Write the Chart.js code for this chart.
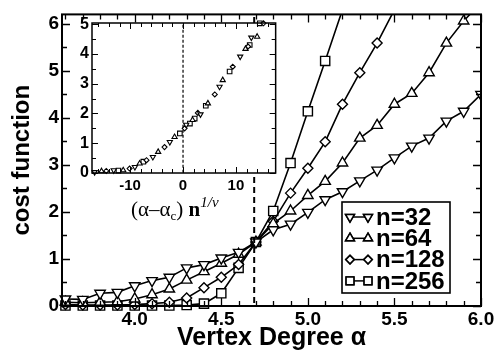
<!DOCTYPE html>
<html>
<head>
<meta charset="utf-8">
<script src="https://cdn.jsdelivr.net/npm/chart.js@4.4.1/dist/chart.umd.min.js"></script>
<style>
  html, body { margin: 0; padding: 0; background: #fff; }
  #wrap { position: relative; width: 503px; height: 353px; overflow: hidden; }
  #main { position: absolute; left: 0; top: 0; }
  #inset { position: absolute; left: 64px; top: 8px; }
  #insetLabel {
    position: absolute; left: 131px; top: 194px;
    font: 21px "Liberation Serif", serif; color: #000; white-space: nowrap;
  }
  #insetLabel sub { font-size: 13px; vertical-align: -4px; }
  #insetLabel sup { font-size: 15px; font-style: italic; vertical-align: 9px; }
</style>
</head>
<body>
<div id="wrap">
  <canvas id="main" width="503" height="353"></canvas>
  <canvas id="inset" width="216" height="224"></canvas>
  <div id="insetLabel">(α–α<sub>c</sub>) <b>n</b><sup>1/ν</sup></div>
</div>
<script>
/* ---- Main plot data: cost function vs vertex degree ---- */
const ALPHA = [3.6, 3.7, 3.8, 3.9, 4.0, 4.1, 4.2, 4.3, 4.4, 4.5, 4.6, 4.7, 4.8,
               4.9, 5.0, 5.1, 5.2, 5.3, 5.4, 5.5, 5.6, 5.7, 5.8, 5.9, 6.0];

const COST_32 = [0.15, 0.14, 0.27, 0.29, 0.43, 0.54, 0.61, 0.81, 0.88, 1.02, 1.14, 1.36, 1.62,
                 1.74, 1.99, 2.26, 2.43, 2.66, 2.89, 3.15, 3.40, 3.57, 3.93, 4.14, 4.50];
const COST_64 = [0.08, 0.07, 0.08, 0.09, 0.15, 0.24, 0.36, 0.55, 0.73, 0.91, 1.10, 1.36, 1.75,
                 2.02, 2.35, 2.65, 3.04, 3.57, 3.84, 4.29, 4.52, 4.96, 5.59, 6.06, 6.45];
const COST_128 = [0.03, 0.02, 0.02, 0.02, 0.03, 0.05, 0.08, 0.17, 0.39, 0.61, 0.88, 1.36, 1.80,
                  2.40, 2.93, 3.49, 4.29, 4.96, 5.59, 6.30];
const COST_256 = [0.01, 0.01, 0.01, 0.01, 0.01, 0.01, 0.01, 0.02, 0.05, 0.27, 0.81, 1.36, 2.02,
                  3.04, 4.14, 5.21, 6.30];

const ALPHA_C = 4.69;
const SERIES_LABELS = ['n=32', 'n=64', 'n=128', 'n=256'];

const X_TICKS = [4.0, 4.5, 5.0, 5.5, 6.0];
const Y_TICKS = [0, 1, 2, 3, 4, 5, 6];

/* ---- Inset data: scaling collapse ---- */
const INSET_X_32 = [-16.7, -13.1, -9.1, -5.7, -2.5, 0.6, 3.3, 6.9, 10.8, 12.9];
const INSET_Y_32 = [0.03, 0.09, 0.20, 0.54, 1.04, 1.62, 1.97, 2.90, 3.91, 4.55];
const INSET_X_64 = [-15.4, -11.3, -8.2, -4.7, -1.6, 1.8, 4.7, 7.5, 11.8, 14.0];
const INSET_Y_64 = [0.06, 0.09, 0.32, 0.71, 1.21, 1.78, 2.34, 3.12, 4.17, 4.58];
const INSET_X_128 = [-14.5, -10.1, -6.9, -3.5, 0.3, 2.8, 6.0, 9.4, 12.3, 15.2];
const INSET_Y_128 = [0.07, 0.15, 0.43, 0.87, 1.50, 2.02, 2.64, 3.57, 4.25, 5.03];
const INSET_X_256 = [-12.2, -7.5, -0.6, 1.3, 2.2, 4.3, 8.8, 12.6, 14.5];
const INSET_Y_256 = [0.08, 0.38, 1.33, 1.66, 1.83, 2.26, 3.41, 4.30, 5.03];

const INSET_X_TICKS = [-10, 0, 10];
const INSET_Y_TICKS = [0, 1, 2, 3, 4, 5];

const FONT = '"Liberation Sans", Arial, sans-serif';

/* marker styles, one per system size */
const MARKERS = [
  { pointStyle: 'triangle', rotation: 180, radius: 6 },
  { pointStyle: 'triangle', rotation: 0, radius: 6 },
  { pointStyle: 'rectRot', rotation: 0, radius: 5 },
  { pointStyle: 'rect', rotation: 0, radius: 6.5 },
];

function toPoints(xs, ys) {
  return ys.map((y, i) => ({ x: xs[i], y }));
}

function seriesDataset(label, points, marker, scale, border) {
  return {
    label,
    data: points,
    showLine: true,
    borderColor: '#000',
    borderWidth: 1.6,
    backgroundColor: '#fff',
    pointStyle: marker.pointStyle,
    pointRotation: marker.rotation,
    pointRadius: marker.radius * scale,
    pointBorderWidth: border,
    pointBackgroundColor: '#fff',
    pointBorderColor: '#000',
    pointHoverRadius: marker.radius * scale,
    clip: { left: 8, right: 0, top: 0, bottom: 8 },
  };
}

function dashedLine(xVal, yMin, yMax, width, dash) {
  return {
    label: 'critical',
    data: [{ x: xVal, y: yMin }, { x: xVal, y: yMax }],
    showLine: true,
    borderColor: '#000',
    borderWidth: width,
    borderDash: dash,
    pointRadius: 0,
    clip: 0,
  };
}

/* ---- Frame with inward ticks on all four sides ---- */
function stepValues(min, max, step) {
  const out = [];
  for (let i = Math.ceil(min / step - 1e-9); i * step <= max + 1e-9; i++) out.push(i * step);
  return out;
}

const frameTicks = {
  id: 'frameTicks',
  afterDatasetsDraw(chart, args, opts) {
    const { ctx, chartArea: a, scales: { x, y } } = chart;
    ctx.save();
    ctx.strokeStyle = '#000';
    ctx.lineWidth = opts.tickWidth;
    ctx.beginPath();
    stepValues(x.min, x.max, opts.xMinor).forEach((v) => {
      const major = Math.abs(v / opts.xMajor - Math.round(v / opts.xMajor)) < 1e-6;
      const len = major ? opts.major : opts.minor;
      const px = Math.round(x.getPixelForValue(v)) + 0.5;
      ctx.moveTo(px, a.bottom); ctx.lineTo(px, a.bottom - len);
      ctx.moveTo(px, a.top); ctx.lineTo(px, a.top + len);
    });
    stepValues(y.min, y.max, opts.yMinor).forEach((v) => {
      const major = Math.abs(v / opts.yMajor - Math.round(v / opts.yMajor)) < 1e-6;
      const len = major ? opts.major : opts.minor;
      const py = Math.round(y.getPixelForValue(v)) + 0.5;
      ctx.moveTo(a.left, py); ctx.lineTo(a.left + len, py);
      ctx.moveTo(a.right, py); ctx.lineTo(a.right - len, py);
    });
    ctx.stroke();
    ctx.lineWidth = opts.frameWidth;
    ctx.strokeRect(a.left, a.top, a.right - a.left, a.bottom - a.top);
    ctx.restore();
  },
};

const whiteArea = {
  id: 'whiteArea',
  beforeDatasetsDraw(chart) {
    const { ctx, chartArea: a } = chart;
    ctx.save();
    ctx.fillStyle = '#fff';
    ctx.fillRect(a.left, a.top, a.right - a.left, a.bottom - a.top);
    ctx.restore();
  },
};

/* ---- Boxed legend with two-marker samples ---- */
const boxLegend = {
  id: 'boxLegend',
  afterDraw(chart) {
    const { ctx, chartArea: a } = chart;
    const left = a.right - 139, top = a.bottom - 104, w = 108, h = 91;
    ctx.save();
    ctx.fillStyle = '#fff';
    ctx.fillRect(left, top, w, h);
    ctx.strokeStyle = '#000';
    ctx.lineWidth = 1.6;
    ctx.strokeRect(left, top, w, h);
    ctx.font = 'bold 24px ' + FONT;
    ctx.textBaseline = 'middle';
    ctx.fillStyle = '#000';
    SERIES_LABELS.forEach((label, i) => {
      const cy = top + 15 + i * 21.3;
      const m = MARKERS[i];
      ctx.lineWidth = 1.5;
      ctx.beginPath();
      ctx.moveTo(left + 8, cy); ctx.lineTo(left + 26, cy);
      ctx.stroke();
      [left + 8, left + 26].forEach((px) => {
        Chart.helpers.drawPoint(ctx, {
          pointStyle: m.pointStyle, rotation: m.rotation,
          radius: m.radius * 0.85, borderWidth: 1.4,
        }, px, cy);
        ctx.fillStyle = '#fff';
        ctx.fill();
        ctx.stroke();
      });
      ctx.fillStyle = '#000';
      ctx.fillText(label, left + 34, cy + 1);
    });
    ctx.restore();
  },
};

const mainChart = new Chart(document.getElementById('main'), {
  type: 'scatter',
  data: {
    datasets: [
      dashedLine(ALPHA_C, -1, 7, 2, [6, 4]),
      seriesDataset(SERIES_LABELS[0], toPoints(ALPHA, COST_32), MARKERS[0], 1, 1.4),
      seriesDataset(SERIES_LABELS[1], toPoints(ALPHA, COST_64), MARKERS[1], 1, 1.4),
      seriesDataset(SERIES_LABELS[2], toPoints(ALPHA, COST_128), MARKERS[2], 1, 1.4),
      seriesDataset(SERIES_LABELS[3], toPoints(ALPHA, COST_256), MARKERS[3], 1, 1.4),
    ],
  },
  options: {
    responsive: false,
    animation: false,
    devicePixelRatio: 1,
    layout: { padding: { top: 7, right: 22, left: 0, bottom: 0 } },
    plugins: {
      legend: { display: false },
      tooltip: { enabled: false },
      frameTicks: { xMajor: 0.5, xMinor: 0.1, yMajor: 1, yMinor: 0.5,
                    major: 8, minor: 5, tickWidth: 1.3, frameWidth: 2 },
    },
    scales: {
      x: {
        type: 'linear',
        min: 3.58,
        max: 6.0,
        afterBuildTicks: (s) => { s.ticks = X_TICKS.map((v) => ({ value: v })); },
        afterFit: (s) => { s.height = 47; },
        grid: { display: false, drawTicks: false },
        border: { display: false },
        ticks: {
          color: '#000', padding: 2,
          font: { family: FONT, size: 19, weight: 'bold' },
          callback: (v) => Number(v).toFixed(1),
        },
        title: {
          display: true, text: 'Vertex Degree α', color: '#000',
          font: { family: FONT, size: 25, weight: 'bold' },
          padding: { top: 3, bottom: 0 },
        },
      },
      y: {
        type: 'linear',
        min: 0,
        max: 6.2,
        afterBuildTicks: (s) => { s.ticks = Y_TICKS.map((v) => ({ value: v })); },
        afterFit: (s) => { s.width = 62; },
        grid: { display: false, drawTicks: false },
        border: { display: false },
        ticks: {
          color: '#000', padding: 3,
          font: { family: FONT, size: 19, weight: 'bold' },
          callback: (v) => String(v),
        },
        title: {
          display: true, text: 'cost function', color: '#000',
          font: { family: FONT, size: 24, weight: 'bold' },
          padding: { top: 8, bottom: 0 },
        },
      },
    },
  },
  plugins: [frameTicks, boxLegend],
});

const insetChart = new Chart(document.getElementById('inset'), {
  type: 'scatter',
  data: {
    datasets: [
      dashedLine(0, -1, 6, 1.2, [3, 2]),
      seriesDataset(SERIES_LABELS[0], toPoints(INSET_X_32, INSET_Y_32), MARKERS[0], 0.5, 1.1),
      seriesDataset(SERIES_LABELS[1], toPoints(INSET_X_64, INSET_Y_64), MARKERS[1], 0.5, 1.1),
      seriesDataset(SERIES_LABELS[2], toPoints(INSET_X_128, INSET_Y_128), MARKERS[2], 0.5, 1.1),
      seriesDataset(SERIES_LABELS[3], toPoints(INSET_X_256, INSET_Y_256), MARKERS[3], 0.5, 1.1),
    ].map((d, i) => (i === 0 ? d : Object.assign(d, { showLine: false, clip: 4 }))),
  },
  options: {
    responsive: false,
    animation: false,
    devicePixelRatio: 1,
    layout: { padding: { top: 15, right: 4, left: 0, bottom: 0 } },
    plugins: {
      legend: { display: false },
      tooltip: { enabled: false },
      frameTicks: { xMajor: 10, xMinor: 2, yMajor: 1, yMinor: 0.5,
                    major: 6, minor: 4, tickWidth: 1, frameWidth: 1.5 },
    },
    scales: {
      x: {
        type: 'linear',
        min: -17.2,
        max: 17.5,
        afterBuildTicks: (s) => { s.ticks = INSET_X_TICKS.map((v) => ({ value: v })); },
        afterFit: (s) => { s.height = 59; },
        grid: { display: false, drawTicks: false },
        border: { display: false },
        ticks: {
          color: '#000', padding: 4,
          font: { family: FONT, size: 15, weight: 'bold' },
          callback: (v) => String(v),
        },
      },
      y: {
        type: 'linear',
        min: 0,
        max: 5.04,
        afterBuildTicks: (s) => { s.ticks = INSET_Y_TICKS.map((v) => ({ value: v })); },
        afterFit: (s) => { s.width = 28; },
        grid: { display: false, drawTicks: false },
        border: { display: false },
        ticks: {
          color: '#000', padding: 3,
          font: { family: FONT, size: 16, weight: 'bold' },
          callback: (v) => String(v),
        },
      },
    },
  },
  plugins: [whiteArea, frameTicks],
});
</script>
</body>
</html>
